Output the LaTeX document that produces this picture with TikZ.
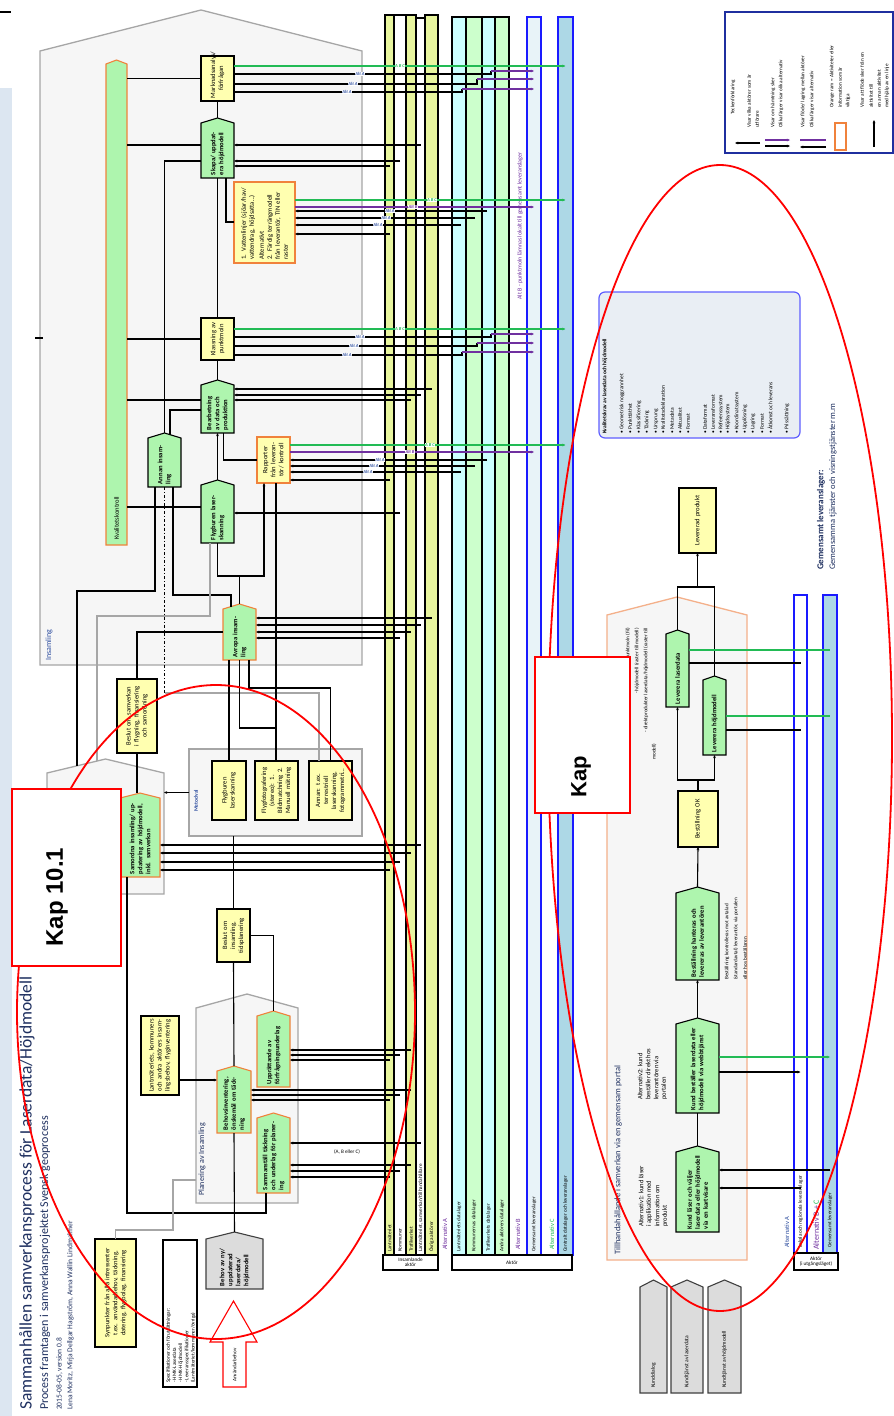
\documentclass[tikz,border=0pt]{standalone}
\usepackage{fontspec}
\setmainfont{Carlito}
\newfontfamily\arialf{Liberation Sans}
\usetikzlibrary{arrows.meta}
\definecolor{hfill}{HTML}{F6F6F6}
\definecolor{hgray}{HTML}{A6A6A6}
\definecolor{yel}{HTML}{FFFFB0}
\definecolor{grn}{HTML}{AEF5AE}
\definecolor{org}{HTML}{F0823C}
\definecolor{lorg}{HTML}{F4B08A}
\definecolor{laney}{HTML}{E8F59E}
\definecolor{lanec}{HTML}{CCFFFF}
\definecolor{laneg}{HTML}{CCFFCC}
\definecolor{lblue}{HTML}{ADD8E6}
\definecolor{vlblue}{HTML}{E8F3F8}
\definecolor{bblue}{HTML}{1A1AFF}
\definecolor{lgreen}{HTML}{22BB55}
\definecolor{lpurple}{HTML}{7030A0}
\definecolor{strip}{HTML}{DCE6F1}
\definecolor{navy}{HTML}{1F3060}
\definecolor{infofill}{HTML}{E9EEF4}
\definecolor{ghfill}{HTML}{DCDCDC}
\definecolor{tblue}{HTML}{2F4FA0}
\definecolor{legb}{HTML}{1F2F9F}
\tikzset{
  cn/.style={draw=black, line width=1.1pt},
  gcn/.style={draw=hgray, line width=1.1pt},
  grl/.style={draw=lgreen, line width=1.1pt},
  prl/.style={draw=lpurple, line width=1.1pt},
  arr/.style={-{Stealth[length=3.2pt,width=2.8pt]}},
  tf/.style={font=\fontsize{6.6}{8}\selectfont},
  tfs/.style={font=\fontsize{5.2}{6.2}\selectfont},
  lab/.style={fill=white, inner sep=0.6pt, font=\fontsize{4.5}{5}\selectfont\bfseries\itshape},
  ybx/.style={fill=yel, draw=black, line width=1.1pt},
  obx/.style={fill=yel, draw=org, line width=1.1pt},
  gbx/.style={fill=grn, draw=black, line width=1.1pt},
  gobx/.style={fill=grn, draw=org, line width=1.1pt},
  hse/.style={fill=hfill, draw=hgray, line width=1.3pt},
  grey/.style={fill=ghfill, draw=black!75, line width=1.1pt},
  kapbox/.style={fill=white, draw=red, line width=1.6pt},
}
\newcommand\mkbox[7]{%
  \pgfmathsetmacro\bw{#4-#2}\pgfmathsetmacro\bh{#5-#3}\pgfmathsetmacro\tw{#5-#3-6}%
  \node[#6, minimum width=\bw pt, minimum height=\bh pt, inner sep=0pt, outer sep=0pt] (#1) at ({(#2+#4)/2},{(#3+#5)/2}) {};%
  \node[rotate=90, tf, align=center, text width=\tw pt, inner sep=0pt] at (#1.center) {#7};}
\newcommand\mkhouse[8]{%
  \path[#7] (#2,#5) -- (#2,#3+#6) -- ({(#2+#4)/2},#3) -- (#4,#3+#6) -- (#4,#5) -- cycle;%
  \pgfmathsetmacro\bw{#4-#2}\pgfmathsetmacro\bh{#5-#3}\pgfmathsetmacro\tw{max(#5-#3-#6-6,4)}%
  \node[minimum width=\bw pt, minimum height=\bh pt, inner sep=0pt, outer sep=0pt] (#1) at ({(#2+#4)/2},{(#3+#5)/2}) {};%
  \node[rotate=90, tf, align=left, text width=\tw pt, inner sep=0pt] at ({(#2+#4)/2},{(#3+#6+#5)/2}) {#8};}
\newcommand\mklane[7]{%
  \pgfmathsetmacro\bw{#3-#2}\pgfmathsetmacro\bh{#5-#4}%
  \node[draw=#7, fill=#6, line width=1.1pt, minimum width=\bw pt, minimum height=\bh pt, inner sep=0pt, outer sep=0pt] (#1) at ({(#2+#3)/2},{(#4+#5)/2}) {};}
\newcommand\rtx[4][tfs]{\node[rotate=90, anchor=west, #1, inner sep=0pt] at (#2,#3) {#4};}
\newcommand\rte[4][tfs]{\node[rotate=90, anchor=east, #1, inner sep=0pt] at (#2,#3) {#4};}
\begin{document}
\begin{tikzpicture}[x=1pt,y=-1pt]
\useasboundingbox (0,0) rectangle (894,1416);
\fill[white] (0,0) rectangle (894,1416);
\fill[strip] (0,88) rectangle (12,1416);
\draw[line width=1.5pt] (0,12) -- (11,12);

% ---------- containers ----------
\mkhouse{ins}{40}{10}{362}{665}{41}{hse}{}
\draw[line width=1.2pt] (35,338) -- (43,338);
\mkhouse{sh}{47}{759}{164}{894}{14}{hse}{}
\mkhouse{ph}{196}{994}{298}{1203}{14}{hse}{}
\mkbox{mv}{189}{749}{362}{836}{hse}{}
\mkhouse{th}{607}{597}{747}{1260}{18}{fill=hfill,draw=lorg,line width=1.3pt}{}
\rtx[font=\fontsize{8}{9}\selectfont, text=tblue]{49}{661}{Insamling}
\rtx[font=\fontsize{5.5}{6}\selectfont\bfseries, text=tblue]{196}{812}{Metodval}
\rtx[font=\fontsize{8}{9}\selectfont, text=navy]{202}{1196}{Planering av Insamling}
\rtx[font=\fontsize{8.5}{9}\selectfont, text=navy]{618}{1255}{Tillhandahållande i samverkan via en gemensam portal}

% ---------- lanes ----------
\mklane{Y1}{385}{394}{15}{1255}{laney}{black}
\mklane{W1}{394}{406}{15}{1255}{white}{black}
\mklane{Y2}{406}{416}{15}{1255}{laney}{black}
\mklane{W2}{416}{425}{18}{1255}{white}{black}
\mklane{Y3}{425}{438}{15}{1255}{laney}{black}
\mklane{C1}{452}{466}{17}{1255}{lanec}{black}
\mklane{G1}{466}{482}{17}{1255}{laneg}{black}
\mklane{C2}{482}{495}{17}{1255}{lanec}{black}
\mklane{G2}{495}{509}{17}{1255}{laneg}{black}
\mklane{B1}{527}{541}{17}{1255}{vlblue}{bblue}
\mklane{B2}{558}{573}{17}{1255}{lblue}{bblue}
\mklane{R1}{794}{807}{595}{1253}{white}{bblue}
\mklane{R2}{823}{837}{595}{1253}{lblue}{bblue}
\node[draw, line width=1.1pt, fill=white, minimum width=55pt, minimum height=15pt, inner sep=0, outer sep=0, align=center, tfs] (la) at (410.5,1262.5) {Insamlande\\[-1pt]aktör};
\node[draw, line width=1.1pt, fill=white, minimum width=120pt, minimum height=15pt, inner sep=0, outer sep=0, tfs] (lc) at (512,1262.5) {Aktör};
\node[draw, line width=1.1pt, fill=white, minimum width=44pt, minimum height=17pt, inner sep=0, outer sep=0, align=center, tfs] (lr) at (816,1261.5) {Aktör\\[-1pt](i utgångsläget)};
\rtx{389.5}{1252}{Lantmäteriet}
\rtx{400}{1252}{Kommuner}
\rtx{411}{1252}{Trafikverket}
\rtx{420.5}{1252}{Lantmäteriet, samverkan/tillhandahållare}
\rtx{431.5}{1252}{Övriga aktörer}
\rtx[font=\fontsize{6.5}{7}\selectfont, text=lpurple]{445}{1250}{Alternativ A}
\rtx{459}{1252}{Lantmäteriets datalager}
\rtx{474}{1252}{Kommunernas datalager}
\rtx{488.5}{1252}{Trafikverkets datalager}
\rtx{502}{1252}{Andra aktörers datalager}
\rtx[font=\fontsize{6.5}{7}\selectfont, text=lpurple]{518}{1250}{Alternativ B}
\rtx{534}{1252}{Gemensamt leveranslager}
\rtx[font=\fontsize{6.5}{7}\selectfont, text=lgreen]{552}{1250}{Alternativ C}
\rtx{565.5}{1252}{Centralt datalager och leveranslager}
\rtx[font=\fontsize{6}{7}\selectfont, text=lpurple]{520}{300}{Alt B - punktmoln lämnas lokalt till gemensamt leveranslager}
\rtx[font=\fontsize{6.5}{7}\selectfont, text=tblue]{787}{1248}{Alternativ A}
\rtx{800.5}{1248}{Lokala och regionala leveranslager}
\rtx[font=\fontsize{8}{9}\selectfont, text=lpurple]{816}{1250}{Alternativ B + {\color{lgreen}C}}
\rtx{830}{1248}{Gemensamt leveranslager}

% ---------- Insamling boxes ----------
\mkhouse{kv}{106}{60}{127}{545}{4}{gobx}{}
\rtx[tf]{116.5}{540}{Kvalitetskontroll}
\mkbox{mk}{201}{56}{234}{101}{ybx}{Marknadsanalys/\\ förfrågan}
\mkhouse{sk}{201}{118}{234}{178}{5}{gbx}{\bfseries Skapa/ uppdatera höjdmodell}
\node[obx, minimum width=61pt, minimum height=81pt, inner sep=0, outer sep=0] (ob1) at (264.5,222.5) {};
\node[rotate=90, tf, align=left, text width=74pt, inner sep=0] at (ob1.center) {1. Vattenlinjer (sjöar/hav/ vattendrag, höjdsatta…)\\[2pt] Alternativt\\ 2. Färdig terrängmodell från leverantör, TIN eller raster};
\mkbox{kl}{201}{318}{234}{360}{ybx}{Klassning av punktmoln}
\mkhouse{be}{201}{380}{234}{433}{5}{gbx}{\bfseries Bearbetning av data och produktion}
\mkhouse{ai}{148}{433}{181}{487}{5}{gbx}{\bfseries Annan insamling}
\mkhouse{fl}{201}{480}{234}{543}{5}{gbx}{\bfseries Flygburen laserskanning}
\mkbox{ob2}{257}{437}{290}{483}{obx}{Rapporter från leverantör/ kontroll}
\mkhouse{av}{223}{604}{256}{660}{5}{gobx}{\bfseries Avropa insamling}

% ---------- below Insamling ----------
\mkbox{yb1}{117}{679}{157}{753}{ybx}{Beslut om samverkan i flygning, finansiering och samordning}
\mkhouse{sg}{120}{793}{160}{877}{5}{gobx}{\bfseries Samordna insamling/ uppdatering av höjdmodell, inkl. samverkan}
\mkbox{m1}{212}{761}{246}{820}{ybx}{Flygburen laserskanning}
\mkbox{m2}{255}{761}{298}{820}{ybx}{Flygfotografering (stereo): 1. Bildmatchning 2. Manuell mätning}
\mkbox{m3}{309}{761}{352}{820}{ybx}{Annan: t.ex. terrestriell laserskanning, fotogrammetri…}
\mkbox{yb2}{217}{909}{250}{962}{ybx}{Beslut om insamling, tidsplanering}
\mkhouse{p1}{257}{1011}{290}{1087}{5}{gobx}{\bfseries Upprättande av förfrågnings\-underlag}
\mkhouse{p2}{217}{1066}{251}{1133}{5}{gobx}{\bfseries Behovsinventering, önskemål om täckning}
\mkhouse{p3}{257}{1113}{290}{1193}{5}{gobx}{\bfseries Sammanställ täckning och underlag för planering}
\mkbox{yb3}{141}{1016}{179}{1095}{ybx}{Lantmäteriets, kommuners och andra aktörers insamlingsbehov, flyginventering}
\mkbox{yb4}{95}{1239}{136}{1347}{ybx}{Synpunkter från alla intressenter t.ex. användarbehov, täckning, datering, flygbolag, finansiering}
\node[draw, line width=1.1pt, fill=white, minimum width=34pt, minimum height=147pt, inner sep=0, outer sep=0] (wb) at (180,1313.5) {};
\node[rotate=90, anchor=north west, tfs, align=left, inner sep=0] at (166,1383) {Specifikationer och förutsättningar:\\ - HMK-Laserdata\\ - HMK-Höjdmodell\\ - Leveransspecifikationer\\ (Lantmäteriet/kommuner/övriga)};
\mkhouse{gh}{206}{1232}{263}{1289}{7}{grey}{\bfseries Behov av ny/ uppdaterad laserdata/ höjdmodell}
\path[draw=red, fill=white, line width=1.1pt] (223,1387) -- (223,1342) -- (210,1342) -- (233.5,1301) -- (257,1342) -- (246,1342) -- (246,1387) -- cycle;
\node[rotate=90, tfs, inner sep=0] (ab) at (234.5,1365) {Användarbehov};
\node[tfs, inner sep=0] (abc) at (347,1152) {(A, B eller C)};

% ---------- connectors Insamling ----------
\draw[cn] (kv.east |- mk.west) -- (mk.west);
\draw[cn] (kv.east |- 0,145) -- (sk.west |- 0,145);
\draw[cn] (kv.east |- kl.west) -- (kl.west);
\draw[cn] (kv.east |- 0,400) -- (be.west |- 0,400);
\draw[cn] (kv.east |- 0,507) -- (fl.west |- 0,507);
\draw[cn] (mk.south) -- (sk.north);
\draw[cn] (sk.south) -- (kl.north);
\draw[cn] (kl.south) -- (be.north);
\draw[cn,arr] (fl.north) -- (be.south);
\draw[cn] (sk.west |- 0,161) -| (ai.north);
\draw[cn] ([xshift=8.5pt]sk.south) |- (ob1.west |- 0,222);
\draw[cn] (be.west |- 0,410) -| (170,435);
\draw[cn] ([xshift=6pt]be.south) |- (ob2.west |- 0,460);
\draw[cn] ([xshift=-9.5pt]ai.south) |- (77,591) -- (77,766);
\draw[cn, dash dot] (ai.south) -- (164.5,693);
\draw[gcn] (164.5,693) -| ([xshift=-11.5pt]m3.north);
\draw[cn] ([xshift=8.5pt]ai.south) |- (231,595) -- (231,607);
\draw[gcn] ([xshift=-7.5pt]fl.south) |- (97,616) -- (97,761);
\draw[cn] (fl.south) |- (av.north |- 0,576) -- (av.north);
\draw[cn, arr] (av.north |- 0,576) -| ([xshift=-9.5pt]ob2.south);
\draw[cn] ([xshift=2.5pt]ob2.south) -- ([xshift=2.5pt]ob2.south |- m2.north);
\draw[cn] (av.south) |- (276,728);
\draw[cn] ([xshift=-10.5pt]av.south) -- ([xshift=-10.5pt]av.south |- m1.north);
\draw[cn] ([xshift=9.5pt]av.south) |- (m3.north |- 0,688) -- (m3.north);
\draw[cn] (yb1.north) |- (av.west);
\draw[cn] (yb1.south) -- (yb1.south |- sg.north);
\draw[cn] ([xshift=-13pt]sg.south) |- ([xshift=-7.5pt]p3.south |- 0,1213) -- ([xshift=-7.5pt]p3.south);
\draw[cn, arr] (mv.west) -- (sh.east |- mv.west);
\draw[cn] (yb2.north |- mv.south) -- (yb2.north);
\draw[cn] (yb2.south) -- (p2.north);
\draw[cn] (yb2.east) -| (p1.north);
\draw[cn, arr] (yb3.east |- 0,1080) -- (p2.west |- 0,1080);
\draw[cn] (p2.south) -- (gh.north);
\draw[gcn] (yb4.north) |- (173,1230) |- (ph.west |- 0,1180);

% ---------- connectors to lanes ----------
\draw[grl, arr] (mk.east |- 0,66) -- (B2 |- 0,66);
\foreach \yy/\xe/\yp in {74/491/71, 84/477/79, 92/462/89} {
  \draw[cn] (mk.east |- 0,\yy) -- (\xe,\yy) -- (\xe,\yp);
  \draw[prl, arr] (\xe,\yp) -- (B1 |- 0,\yp);
}
\node[lab, text=lgreen] at (400,66) {A B C};
\node[lab, text=tblue] at (360,74) {Alt A};
\node[lab, text=tblue] at (353,84) {Alt A};
\node[lab, text=tblue] at (347,92) {Alt A};
\draw[cn, arr] (W2 |- 0,145) -- (sk.east |- 0,145);
\draw[cn, arr] (W1 |- 0,161) -- (sk.east |- 0,161);
\draw[cn, arr] (Y1 |- 0,166) -- (sk.east |- 0,166);

\draw[grl, arr] (ob1.east |- 0,200) -- (B2 |- 0,200);
\draw[prl, arr] (ob1.east |- 0,207) -- (B1 |- 0,207);
\foreach \yy/\xe in {211/487, 218/475, 225/461} \draw[cn, arr] (\xe,\yy) -- (ob1.east |- 0,\yy);
\draw[cn, arr] (Y1 |- 0,234) -- (ob1.east |- 0,234);
\node[lab, text=lgreen] at (432,200) {A B C};
\node[lab, text=lpurple] at (413,207) {Alt B};
\node[lab, text=tblue] at (390,211) {Alt A};
\node[lab, text=tblue] at (386,218) {Alt A};
\node[lab, text=tblue] at (378,225) {Alt A};

\draw[grl, arr] (kl.east |- 0,329) -- (B2 |- 0,329);
\foreach \yy/\xe/\yp in {337/491/334, 346/477/343, 355/462/352} {
  \draw[cn] (kl.east |- 0,\yy) -- (\xe,\yy) -- (\xe,\yp);
  \draw[prl, arr] (\xe,\yp) -- (B1 |- 0,\yp);
}
\node[lab, text=lgreen] at (400,329) {A B C};
\node[lab, text=tblue] at (360,337) {Alt A};
\node[lab, text=tblue] at (354,346) {Alt A};
\node[lab, text=tblue] at (347,355) {Alt A};

\draw[cn, arr] (Y3 |- 0,389) -- (be.east |- 0,389);
\draw[cn, arr] (W2 |- 0,395) -- (be.east |- 0,395);
\draw[cn, arr] (Y2 |- 0,400) -- (be.east |- 0,400);

\draw[grl, arr] (ob2.east |- 0,445) -- (B2 |- 0,445);
\draw[prl, arr] (ob2.east |- 0,452) -- (B1 |- 0,452);
\foreach \yy/\xe in {460/487, 466/475, 472/461} \draw[cn, arr] (\xe,\yy) -- (ob2.east |- 0,\yy);
\draw[cn, arr] (Y1 |- 0,480) -- (ob2.east |- 0,480);
\node[lab, text=lgreen] at (430,445) {A B C};
\node[lab, text=lpurple] at (410,452) {Alt B};
\node[lab, text=tblue] at (380,460) {Alt A};
\node[lab, text=tblue] at (374,466) {Alt A};
\node[lab, text=tblue] at (368,472) {Alt A};

\draw[cn, arr] (W1 |- 0,513) -- (fl.east |- 0,513);
\draw[cn, arr] (Y3 |- 0,618) -- (av.east |- 0,618);
\draw[cn, arr] (W2 |- 0,625) -- (av.east |- 0,625);
\draw[cn, arr] (Y2 |- 0,632) -- (av.east |- 0,632);
\draw[cn, arr] (W1 |- 0,638) -- (av.east |- 0,638);
\draw[cn, arr] (W2 |- 0,845) -- (sg.east |- 0,845);
\draw[cn, arr] (Y2 |- 0,853) -- (sg.east |- 0,853);
\draw[cn, arr] (W1 |- 0,862) -- (sg.east |- 0,862);
\draw[cn, arr] (Y1 |- 0,870) -- (sg.east |- 0,870);
\draw[cn, arr] (Y2 |- 0,1050) -- (p1.east |- 0,1050);
\draw[cn, arr] (W1 |- 0,1055) -- (p1.east |- 0,1055);
\draw[cn, arr] (Y1 |- 0,1060) -- (p1.east |- 0,1060);
\draw[cn, arr] (Y2 |- 0,1090) -- (p2.east |- 0,1090);
\draw[cn, arr] (W1 |- 0,1095) -- (p2.east |- 0,1095);
\draw[cn, arr] (Y1 |- 0,1100) -- (p2.east |- 0,1100);
\draw[cn, arr] (W2 |- 0,1143) -- (p3.east |- 0,1143);
\draw[cn, arr] (Y2 |- 0,1165) -- (p3.east |- 0,1165);
\draw[cn, arr] (W1 |- 0,1171) -- (p3.east |- 0,1171);
\draw[cn, arr] (Y1 |- 0,1177) -- (p3.east |- 0,1177);

% ---------- right section ----------
\mkbox{lp}{679}{488}{716}{553}{ybx}{Levererad produkt}
\mkhouse{lvl}{666}{630}{689}{707}{4}{gbx}{\bfseries Leverera laserdata}
\mkhouse{lvh}{703}{676}{726}{755}{4}{gbx}{\bfseries Leverera höjdmodell}
\mkbox{bok}{678}{791}{718}{847}{ybx}{Beställning OK}
\mkhouse{bh}{676}{887}{719}{980}{6}{gbx}{\bfseries Beställning hanteras och levereras av leverantören}
\mkhouse{kb}{676}{1018}{719}{1113}{6}{gbx}{\bfseries Kund beställer laserdata eller höjdmodell via webbtjänst}
\mkhouse{kl2}{676}{1146}{719}{1232}{6}{gbx}{\bfseries Kund läser och väljer laserdata eller höjdmodell via en kartvisare}
\draw[cn] (lvl.north) |- (lvh.north |- 0,587) -- (lvh.north);
\draw[cn, arr] (lp.south |- 0,587) -- (lp.south);
\draw[cn, arr] (bok.north) -- (bok.north |- 0,780) -| (lvl.south);
\draw[cn, arr] (bok.north |- 0,780) -| (lvh.south);
\draw[cn, arr] (bh.north) -- (bok.south);
\draw[cn, arr] (kb.north) -- (bh.south);
\draw[cn] (kl2.north) -- (kb.south);
\draw[grl] (lvl.east |- 0,650) -- (R2 |- 0,650);
\draw[cn] (lvl.east |- 0,663) -- (R1 |- 0,663);
\draw[grl] (lvh.east |- 0,716) -- (R2 |- 0,716);
\draw[cn] (lvh.east |- 0,730) -- (R1 |- 0,730);
\draw[grl, arr] (kb.east |- 0,1057) -- (R2 |- 0,1057);
\draw[cn, arr] (kb.east |- 0,1072) -- (R1 |- 0,1072);
\draw[cn, arr] (R2 |- 0,1170) -- (kl2.east |- 0,1170);
\draw[cn, arr] (R1 |- 0,1188) -- (kl2.east |- 0,1188);
\rte{628}{628}{- laserdata/punktmoln (fil)}
\rte{637}{628}{- höjdmodell (raster till modell)}
\rte{646}{628}{- direktprodukter laserdata/höjdmodell (raster till}
\rtx{654}{760}{modell)}
\rtx{727}{980}{Beställning kontrolleras mot avtalad}
\rtx{736}{980}{(standardavtal) leverantör, via portalen}
\rtx{745}{980}{eller hos beställaren}
\rtx[tf]{640}{1100}{Alternativ2: kund}
\rtx[tf]{648}{1100}{beställer direkt hos}
\rtx[tf]{656}{1100}{leverantören via}
\rtx[tf]{664}{1100}{portalen}
\rtx[tf]{641}{1227}{Alternativ1: kund läser}
\rtx[tf]{649}{1227}{i applikation med}
\rtx[tf]{657}{1227}{information om}
\rtx[tf]{665}{1227}{produkt}
\mkhouse{gk1}{640}{1280}{667}{1393}{7}{grey}{}
\mkhouse{gk2}{671}{1280}{703}{1393}{7}{grey}{}
\mkhouse{gk3}{708}{1280}{741}{1393}{7}{grey}{}
\rtx[font=\fontsize{5.5}{6}\selectfont]{653.5}{1388}{Kunddialog}
\rtx[font=\fontsize{5.5}{6}\selectfont]{687}{1388}{Kundtjänst av laserdata}
\rtx[font=\fontsize{5.5}{6}\selectfont]{724.5}{1388}{Kundtjänst av höjdmodell}

% ---------- info box ----------
\node[fill=infofill, draw=bblue!70, line width=1.2pt, rounded corners=6pt, minimum width=201pt, minimum height=146pt, inner sep=0, outer sep=0] (info) at (699.5,365) {};
\rtx[font=\fontsize{5.5}{6}\selectfont\bfseries]{605}{434}{Kvalitetskrav av laserdata och höjdmodell}
\foreach \xx/\tt in {622/Geometrisk noggrannhet, 630/Punkttäthet/ Punktfördelning/ Klassificering, 639/Klassificering, 647/Täckning, 656/Ursprung/ källa, 663/Kvalitetsdeklaration, 672/Metadata, 680/Aktualitet/ tidsperiod/ år, 688/Format/ lager, 705/Dataformat/ lagringsformat, 713/Leveransformat, 721/Referenssystem, 728/Höjdsystem, 737/Koordinatsystem, 745/Upplösning, 753/Lagring, 762/Format, 770/Åtkomst och leverans, 787/Prissättning}
  {\rtx[font=\fontsize{5.5}{6}\selectfont]{\xx}{434}{• \tt}}
\rtx[font=\fontsize{9}{10}\selectfont\bfseries, text=navy]{821}{570}{Gemensamt leveranslager:}
\rtx[font=\fontsize{8.5}{10}\selectfont, text=navy]{833}{570}{Gemensamma tjänster och visningstjänster m.m}

% ---------- legend ----------
\node[draw=legb, line width=1.2pt, minimum width=168pt, minimum height=141pt, inner sep=0, outer sep=0] (leg) at (809,82.5) {};
\draw[cn, arr] (760,143) -- (735,143);
\draw[prl, arr] (765,140) -- (790,140);
\draw[cn, arr] (765,146) -- (790,146);
\draw[prl] (800,140) -- (826,140);
\draw[cn, arr] (826,147) -- (800,147);
\draw[draw=org, line width=1.1pt] (835,123) rectangle (846,150);
\draw[cn, arr] (874,147) -- (874,120);
\rtx{733}{115}{Teckenförklaring}
\rtx{749}{128}{Visar vilka aktörer som är}
\rtx{757}{128}{utförare}
\rtx{773}{128}{Visar om hämtning sker}
\rtx{781}{128}{Olika färger visar olika alternativ}
\rtx{803}{128}{Visar flöde/ lagring mellan aktörer}
\rtx{812}{128}{Olika färger visar alternativ}
\rtx{832}{108}{Orange ram = Aktiviteter eller}
\rtx{840}{108}{information som är}
\rtx{848}{108}{viktiga}
\rtx{862}{108}{Visar att flöde sker från en}
\rtx{871}{108}{aktivitet till}
\rtx{879}{108}{en annan aktivitet}
\rtx{887}{108}{med hjälp av en linje}

% ---------- title ----------
\rtx[font=\fontsize{17.5}{19}\selectfont, text=navy]{27}{1410}{Sammanhållen samverkansprocess för Laserdata/Höjdmodell}
\rtx[font=\fontsize{12}{14}\selectfont, text=navy]{45}{1410}{Process framtagen i samverkansprojektet Svensk geoprocess}
\rtx[font=\fontsize{7.5}{8}\selectfont, text=navy]{59.5}{1410}{2015-08-05, version 0.8}
\rtx[font=\fontsize{7.5}{8}\selectfont, text=navy]{70.5}{1410}{Lena Moritz, Mirja Dellgar Hagström, Anna Wallin Lindmalmer}

% ---------- red annotations ----------
\draw[red, line width=1.8pt] (216,1012) ellipse [x radius=199, y radius=327];
\draw[red, line width=1.8pt] (720,738) ellipse [x radius=172, y radius=573];
\node[kapbox, minimum width=109pt, minimum height=177pt, inner sep=0, outer sep=0] (kap1) at (66.5,877.5) {};
\node[rotate=90, font=\arialf\bfseries\fontsize{24}{24}\selectfont, inner sep=0] (kap1t) at (57,897) {Kap 10.1};
\node[kapbox, minimum width=95pt, minimum height=156pt, inner sep=0, outer sep=0] (kap2) at (582.5,735) {};
\node[rotate=90, font=\arialf\bfseries\fontsize{22}{22}\selectfont, inner sep=0] (kap2t) at (581,777) {Kap};
\end{tikzpicture}
\end{document}
